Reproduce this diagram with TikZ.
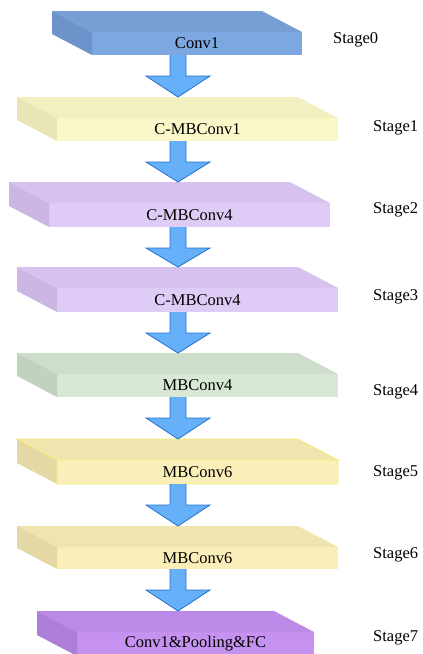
\documentclass[tikz,border=0pt]{standalone}
\usepackage{fontspec}
\setmainfont{Liberation Serif}
\usepackage{tikz}
\usetikzlibrary{positioning,calc}

\definecolor{blueF}{RGB}{124,167,224}
\definecolor{blueT}{RGB}{119,158,213}
\definecolor{blueS}{RGB}{110,147,202}
\definecolor{yelF}{RGB}{250,248,200}
\definecolor{yelT}{RGB}{242,240,192}
\definecolor{yelS}{RGB}{232,229,182}
\definecolor{lavF}{RGB}{223,204,246}
\definecolor{lavT}{RGB}{215,194,239}
\definecolor{lavS}{RGB}{204,182,228}
\definecolor{grnF}{RGB}{215,232,213}
\definecolor{grnT}{RGB}{205,222,203}
\definecolor{grnS}{RGB}{193,210,191}
\definecolor{crmF}{RGB}{250,239,184}
\definecolor{crmT}{RGB}{241,229,175}
\definecolor{crmS}{RGB}{228,216,164}
\definecolor{purF}{RGB}{197,146,240}
\definecolor{purT}{RGB}{186,138,230}
\definecolor{purS}{RGB}{172,126,216}
\definecolor{arrowF}{RGB}{102,176,250}
\definecolor{arrowD}{RGB}{38,112,204}
\definecolor{edgeY}{RGB}{245,236,120}

\tikzset{
  slabfront/.style={inner sep=0pt, outer sep=0pt, font=\fontsize{16.5}{18}\selectfont},
  stagelabel/.style={anchor=west, inner sep=0pt, font=\fontsize{16.5}{18}\selectfont},
  flowarrow/.style={fill=arrowF, draw=arrowD, line width=0.8pt, line join=miter}
}

% slab: name, left, right, top, bottom, colour prefix, text
\newcommand\slab[7]{%
  \node[slabfront, fill=#6F, minimum width={#3-#2}, minimum height={#5-#4}]
    (#1) at ({(#2+#3)/2},{(#4+#5)/2}) {#7};
  \fill[#6T] (#1.north west) -- ++(-40,-21) -- ($(#1.north east)+(-40,-21)$)
    -- (#1.north east) -- cycle;
  \fill[#6S] (#1.north west) -- ++(-40,-21) -- ++(0,{#5-#4})
    -- (#1.south west) -- cycle;
}

% arrow from slab to slab
\newcommand\flow[2]{%
  \draw[flowarrow] ($(ax |- #1.south)+(-8,0)$) -- ++(0,21) -- ++(-24,0)
    -- ($(ax |- #2.north)+(0,-21)$) -- ($(ax |- #1.south)+(32,21)$)
    -- ++(-24,0) -- ($(ax |- #1.south)+(8,0)$);
}

\begin{document}
\begin{tikzpicture}[x=1pt, y=-1pt]
  \useasboundingbox (0,0) rectangle (423,654);
  \coordinate (ax) at (178,0);

  % Slabs
  \slab{s0}{92}{302}{32}{55}{blue}{Conv1}
  \slab{s1}{57}{338}{118}{141}{yel}{C-MBConv1}
  \slab{s2}{49}{330}{203}{227}{lav}{C-MBConv4}
  \slab{s3}{57}{338}{288}{312}{lav}{C-MBConv4}
  \slab{s4}{57}{338}{374}{397}{grn}{MBConv4}
  \slab{s5}{57}{338}{460}{484}{crm}{MBConv6}
  \draw[edgeY, line width=0.8pt] (s5.north west) -- ++(-40,-21)
    -- ($(s5.north east)+(-40,-21)$) -- (s5.north east) -- (s5.north west)
    -- (s5.south west) -- (s5.south east) -- (s5.north east);
  \slab{s6}{57}{338}{547}{569}{crm}{MBConv6}
  \slab{s7}{77}{314}{632}{656}{pur}{Conv1\&Pooling\&FC}

  % Arrows
  \flow{s0}{s1}
  \flow{s1}{s2}
  \flow{s2}{s3}
  \flow{s3}{s4}
  \flow{s4}{s5}
  \flow{s5}{s6}
  \flow{s6}{s7}

  % Stage labels
  \node[stagelabel] (st0) at (333,40) {Stage0};
  \node[stagelabel] (st1) at (373,128) {Stage1};
  \node[stagelabel] (st2) at (373,210) {Stage2};
  \node[stagelabel] (st3) at (373,297) {Stage3};
  \node[stagelabel] (st4) at (373,392) {Stage4};
  \node[stagelabel] (st5) at (373,473) {Stage5};
  \node[stagelabel] (st6) at (373,555) {Stage6};
  \node[stagelabel] (st7) at (373,638) {Stage7};
\end{tikzpicture}
\end{document}
